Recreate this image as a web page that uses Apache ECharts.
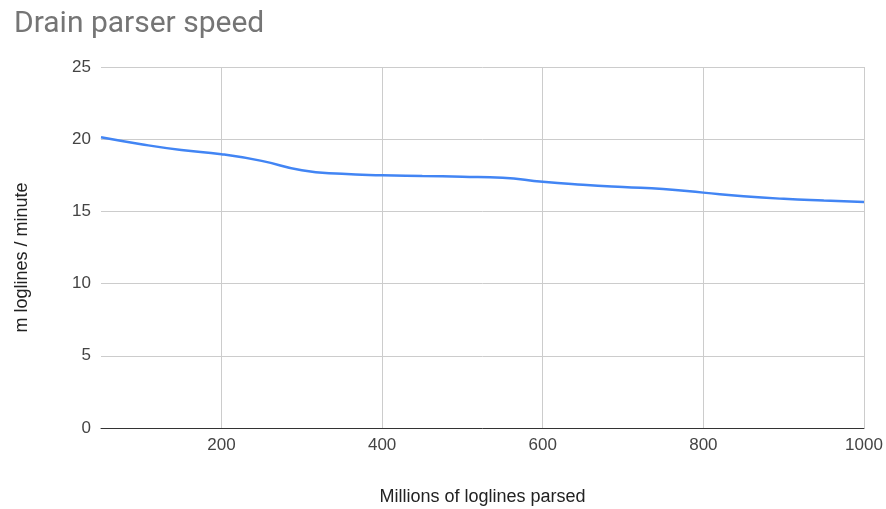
<!DOCTYPE html>
<html>
<head>
<meta charset="utf-8">
<script src="https://cdn.jsdelivr.net/npm/echarts@6/dist/echarts.min.js"></script>
<style>
  html, body { margin: 0; padding: 0; background: #ffffff; }
  #chart { width: 886px; height: 509px; }
</style>
</head>
<body>
<div id="chart"></div>
<script>
// Chart text
const titleText = 'Drain parser speed';
const xAxisName = 'Millions of loglines parsed';
const yAxisName = 'm loglines / minute';

// Millions of loglines parsed (x) and parsing speed in millions of loglines per minute (y)
const loglinesParsed = [50, 100, 150, 200, 250, 300, 350, 400, 450, 500,
                        550, 600, 650, 700, 750, 800, 850, 900, 950, 1000];
const parseSpeed = [20.13, 19.65, 19.25, 18.96, 18.5, 17.85, 17.6, 17.5, 17.45, 17.4,
                    17.33, 17.05, 16.85, 16.69, 16.55, 16.3, 16.05, 15.87, 15.75, 15.65];

// Tick labels
const xTickValues = [200, 400, 600, 800, 1000];
const yTickValues = [0, 5, 10, 15, 20, 25];

const chart = echarts.init(document.getElementById('chart'), null, { renderer: 'canvas' });

const axisFont = '"Liberation Sans", Arial, sans-serif';

chart.setOption({
  animation: false,
  backgroundColor: '#ffffff',
  title: {
    text: titleText,
    left: 9,
    top: 4,
    textStyle: {
      fontFamily: 'Roboto, Arial, sans-serif',
      fontSize: 30,
      fontWeight: 'normal',
      color: '#757575'
    }
  },
  grid: {
    left: 101,
    right: 22,
    top: 67,
    bottom: 81,
    containLabel: false,
    outerBoundsMode: 'none'
  },
  xAxis: {
    type: 'value',
    min: loglinesParsed[0],
    max: loglinesParsed[loglinesParsed.length - 1],
    name: xAxisName,
    nameLocation: 'middle',
    nameGap: 60,
    nameTextStyle: { fontFamily: axisFont, fontSize: 18, color: '#222222' },
    axisLine: { show: true, lineStyle: { color: '#333333', width: 1 } },
    axisTick: { show: false, customValues: xTickValues },
    axisLabel: {
      customValues: xTickValues,
      formatter: (v) => String(v),
      fontFamily: axisFont,
      fontSize: 17,
      color: '#444444',
      margin: 9
    },
    splitLine: { show: true, lineStyle: { color: '#cccccc', width: 1 } }
  },
  yAxis: {
    type: 'value',
    min: yTickValues[0],
    max: yTickValues[yTickValues.length - 1],
    interval: yTickValues[1] - yTickValues[0],
    name: yAxisName,
    nameLocation: 'middle',
    nameGap: 70,
    nameTextStyle: {
      fontFamily: axisFont,
      fontSize: 18,
      color: '#222222',
      padding: [0, 20, 0, 0]
    },
    axisLine: { show: false },
    axisTick: { show: false },
    axisLabel: {
      fontFamily: axisFont,
      fontSize: 17,
      color: '#444444',
      margin: 10
    },
    splitLine: { show: true, lineStyle: { color: '#cccccc', width: 1 } }
  },
  series: [{
    type: 'line',
    data: loglinesParsed.map((x, i) => [x, parseSpeed[i]]),
    smooth: 0.5,
    showSymbol: false,
    lineStyle: { color: '#4285F4', width: 2.5 },
    itemStyle: { color: '#4285F4' },
    z: 3
  }]
});
</script>
</body>
</html>
